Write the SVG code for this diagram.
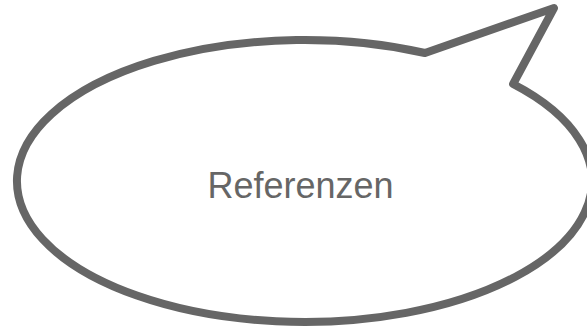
<svg xmlns="http://www.w3.org/2000/svg" width="587" height="327" viewBox="0 0 587 327">
<style>
.bubble{fill:#ffffff;stroke:#666666;stroke-width:8;stroke-linejoin:round}
.label{font-family:"Liberation Sans",Arial,sans-serif;font-size:36px;fill:#666666}
</style>
<rect width="587" height="327" fill="#ffffff"/>
<g id="callout">
<path class="bubble" d="M 425 53 L 554 8 L 513.1 84 A 287.5 141 0 1 1 425 53 Z"/>
<text class="label" x="300.5" y="198" text-anchor="middle">Referenzen</text>
</g>
</svg>
